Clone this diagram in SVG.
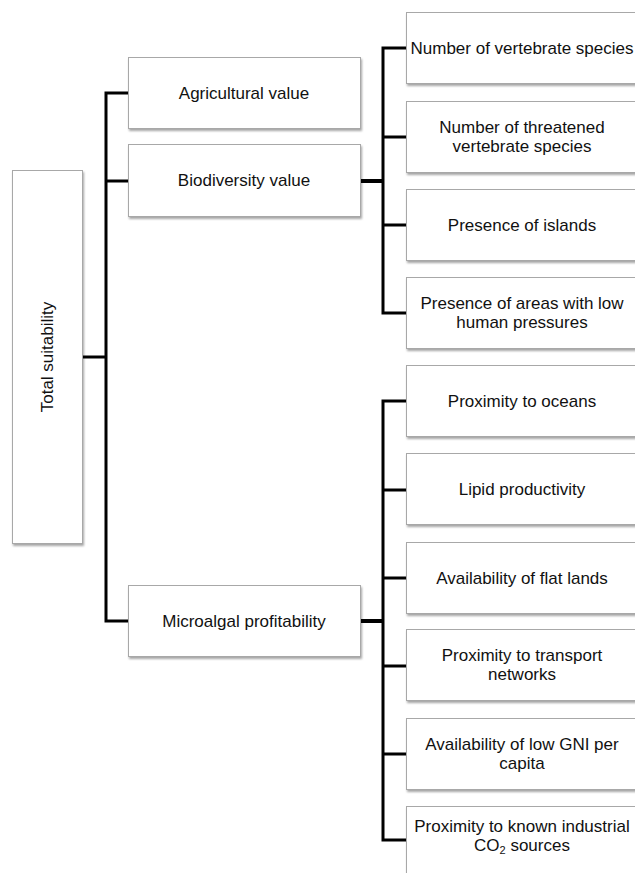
<svg xmlns="http://www.w3.org/2000/svg" width="635" height="873" viewBox="0 0 635 873">
<defs>
<filter id="sh" x="-10%" y="-10%" width="130%" height="130%">
<feDropShadow dx="1" dy="2" stdDeviation="1" flood-color="#000" flood-opacity="0.35"/>
</filter>
</defs>
<style>
.box{fill:#fff;stroke:#a8a8a8;stroke-width:1;filter:url(#sh)}
.t{font-family:"Liberation Sans",Arial,sans-serif;font-size:17px;fill:#111;text-anchor:middle}
.c{fill:none;stroke:#000;stroke-width:3;stroke-linejoin:miter}
.c4{fill:none;stroke:#000;stroke-width:4}
</style>
<rect width="635" height="873" fill="#fff"/>
<g id="connectors">
<path class="c" d="M82,357H106"/>
<path class="c" d="M128,93H106V621H128"/>
<path class="c" d="M106,181H128"/>
<path class="c4" d="M360,181H383"/>
<path class="c" d="M406,48H383V313H406"/>
<path class="c" d="M383,137H406M383,225H406"/>
<path class="c4" d="M360,621H383"/>
<path class="c" d="M406,401H383V840H406"/>
<path class="c" d="M383,490H406M383,578H406M383,666H406M383,754H406"/>
</g>
<g id="total"><rect class="box" x="12.5" y="170.5" width="70" height="373"/><text class="t" transform="translate(53,357) rotate(-90)">Total suitability</text></g>
<g id="agri"><rect class="box" x="128.5" y="57.5" width="232" height="71"/><text class="t" x="244" y="99">Agricultural value</text></g>
<g id="bio"><rect class="box" x="128.5" y="144.5" width="232" height="72"/><text class="t" x="244" y="186">Biodiversity value</text></g>
<g id="micro"><rect class="box" x="128.5" y="585.5" width="232" height="71"/><text class="t" x="244" y="627">Microalgal profitability</text></g>
<g id="b1"><rect class="box" x="406.5" y="12.5" width="232" height="71"/><text class="t" x="522" y="54">Number of vertebrate species</text></g>
<g id="b2"><rect class="box" x="406.5" y="101.5" width="232" height="71"/><text class="t" x="522" y="133">Number of threatened</text><text class="t" x="522" y="152">vertebrate species</text></g>
<g id="b3"><rect class="box" x="406.5" y="189.5" width="232" height="71"/><text class="t" x="522" y="231">Presence of islands</text></g>
<g id="b4"><rect class="box" x="406.5" y="277.5" width="232" height="71"/><text class="t" x="522" y="309">Presence of areas with low</text><text class="t" x="522" y="328">human pressures</text></g>
<g id="b5"><rect class="box" x="406.5" y="365.5" width="232" height="71"/><text class="t" x="522" y="407">Proximity to oceans</text></g>
<g id="b6"><rect class="box" x="406.5" y="453.5" width="232" height="71"/><text class="t" x="522" y="495">Lipid productivity</text></g>
<g id="b7"><rect class="box" x="406.5" y="542.5" width="232" height="71"/><text class="t" x="522" y="584">Availability of flat lands</text></g>
<g id="b8"><rect class="box" x="406.5" y="629.5" width="232" height="71"/><text class="t" x="522" y="661">Proximity to transport</text><text class="t" x="522" y="680">networks</text></g>
<g id="b9"><rect class="box" x="406.5" y="718.5" width="232" height="71"/><text class="t" x="522" y="750">Availability of low GNI per</text><text class="t" x="522" y="769">capita</text></g>
<g id="b10"><rect class="box" x="406.5" y="806.5" width="232" height="71"/><text class="t" x="522" y="832">Proximity to known industrial</text><text class="t" x="522" y="851">CO<tspan font-size="11" dy="3">2</tspan><tspan dy="-3"> sources</tspan></text></g>
</svg>
